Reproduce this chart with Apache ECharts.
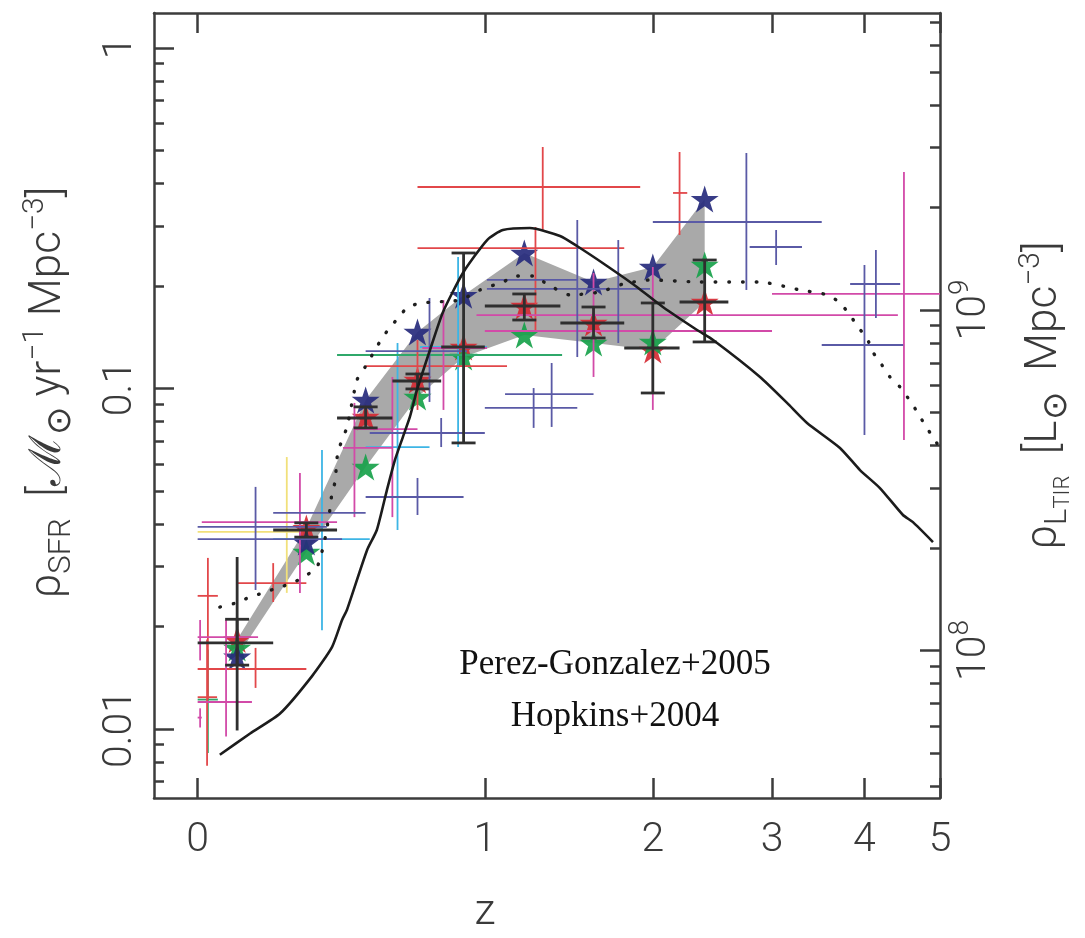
<!DOCTYPE html>
<html>
<head>
<meta charset="utf-8">
<script src="https://cdn.jsdelivr.net/npm/echarts@6/dist/echarts.min.js"></script>
<style>
  html, body { margin: 0; padding: 0; background: #ffffff; }
  #chart { width: 1085px; height: 938px; }
</style>
</head>
<body>
<div id="chart"></div>
<script>
// ---- Star-formation-rate density estimates per redshift bin ----
const starZ     = [0.1, 0.3, 0.5, 0.7, 0.9, 1.2, 1.6, 2.0, 2.4];
const starBlue  = [0.0163, 0.0354, 0.0925, 0.1465, 0.188, 0.250, 0.2055, 0.2274, 0.360];
const starRed   = [0.0183, 0.0389, 0.0825, 0.1059, 0.1324, 0.1747, 0.1557, 0.1297, 0.1795];
const starGreen = [0.0173, 0.0331, 0.0588, 0.0944, 0.1237, 0.1436, 0.1360, 0.1370, 0.2305];

// Error crosses: [z, rho, zLow, zHigh, rhoLow, rhoHigh]
const hopkinsPts = [
  [0.10, 0.0179, 0.0, 0.2, 0.0154, 0.0210],
  [0.30, 0.0384, 0.2, 0.4, 0.0366, 0.0403],
  [0.50, 0.0819, 0.4, 0.6, 0.0766, 0.0883],
  [0.70, 0.1052, 0.6, 0.8, 0.0997, 0.1103],
  [0.90, 0.1324, 0.8, 1.0, 0.0692, 0.2500],
  [1.20, 0.1747, 1.0, 1.4, 0.1589, 0.1895],
  [1.60, 0.1557, 1.4, 1.8, 0.1407, 0.1735],
  [2.00, 0.1315, 1.8, 2.2, 0.0970, 0.1783],
  [2.40, 0.1795, 2.2, 2.6, 0.1370, 0.2384]
];
const hopkinsOpen = [
  [0.10, 0.0179, 0.10, 0.10, 0.0099, 0.0320]
];
const redPts = [
  [0.025, 0.0246, 0.0, 0.05, 0.0122, 0.0318],
  [0.023, 0.0124, 0.0, 0.048, 0.0078, 0.0183],
  [0.20, 0.0268, 0.10, 0.30, 0.0236, 0.0307],
  [0.15, 0.0150, 0.0, 0.30, 0.0132, 0.0173],
  [0.70, 0.1164, 0.50, 1.11, 0.0865, 0.1388],
  [1.30, 0.3906, 0.70, 1.91, 0.292, 0.512],
  [1.26, 0.2585, 0.70, 1.80, 0.1485, 0.298],
  [2.20, 0.3752, 2.15, 2.26, 0.2823, 0.495]
];
const magentaPts = [
  [0.006, 0.0186, 0.0, 0.157, 0.0159, 0.0209],
  [0.006, 0.0108, 0.0, 0.01, 0.0101, 0.0115],
  [0.071, 0.0120, 0.0, 0.14, 0.0095, 0.0209],
  [0.28, 0.0405, 0.01, 0.40, 0.0251, 0.0565],
  [0.46, 0.0669, 0.42, 0.60, 0.0419, 0.0907],
  [0.60, 0.0760, 0.46, 0.70, 0.0419, 0.1081],
  [0.81, 0.1315, 0.72, 1.01, 0.0865, 0.1819],
  [1.60, 0.1475, 1.0, 3.0, 0.1081, 0.2184],
  [2.00, 0.1643, 0.96, 4.42, 0.0865, 0.2274],
  [4.50, 0.1895, 3.0, 5.0, 0.0706, 0.4322]
];
const yellowPts = [
  [0.24, 0.0379, 0.0, 0.28, 0.0251, 0.0629]
];
const cyanPts = [
  [0.35, 0.0361, 0.20, 0.515, 0.0195, 0.066],
  [0.62, 0.0673, 0.50, 0.75, 0.0384, 0.136],
  [0.875, 0.1324, 0.71, 1.01, 0.0673, 0.2433]
];
const greenPts = [
  [0.025, 0.0122, 0.0, 0.05, 0.0085, 0.0171],
  [0.90, 0.1254, 0.40, 1.41, 0.097, 0.16]
];
const navyPts = [
  [0.15, 0.0392, 0.0, 0.366, 0.0256, 0.0514],
  [0.17, 0.0361, 0.0, 0.417, 0.0361, 0.0361],
  [0.30, 0.0431, 0.20, 0.50, 0.0431, 0.0431],
  [0.70, 0.0480, 0.50, 0.90, 0.0425, 0.0546],
  [0.80, 0.0740, 0.515, 1.0, 0.0673, 0.0819],
  [1.35, 0.0963, 1.10, 1.60, 0.0771, 0.1188],
  [1.25, 0.0877, 1.0, 1.50, 0.0766, 0.1003],
  [0.75, 0.1288, 0.50, 0.916, 0.0913, 0.1844],
  [1.50, 0.2083, 1.01, 1.50, 0.1237, 0.3125],
  [1.76, 0.1960, 1.01, 1.98, 0.136, 0.2729],
  [2.76, 0.3083, 2.0, 3.51, 0.1947, 0.4916],
  [3.04, 0.2603, 2.79, 3.30, 0.2305, 0.292],
  [4.00, 0.1342, 3.51, 4.49, 0.073, 0.2305],
  [4.14, 0.2027, 3.83, 4.45, 0.161, 0.2551]
];

// Model curves
const solidZ = [0.055,0.135,0.22,0.318,0.383,0.417,0.434,0.505,0.541,0.579,0.61,0.641,0.669,0.698,0.752,0.808,0.897,1.011,1.089,1.23,1.398,1.498,1.686,1.887,2.074,2.338,2.47,2.886,3.148,3.353,3.713,3.946,4.19,4.487,4.621,4.899];
const solidRho = [0.0084,0.0097,0.0111,0.0143,0.0174,0.0209,0.0224,0.0335,0.0384,0.0503,0.0617,0.072,0.0825,0.099,0.1297,0.1678,0.2184,0.2729,0.292,0.296,0.2805,0.2621,0.229,0.1987,0.1735,0.1485,0.1388,0.1081,0.0907,0.0792,0.0669,0.0576,0.051,0.0425,0.0405,0.0354];
const dotZ = [0.055,0.094,0.135,0.171,0.214,0.256,0.293,0.334,0.359,0.376,0.383,0.393,0.403,0.434,0.469,0.498,0.552,0.583,0.622,0.661,0.718,0.773,0.884,0.977,1.089,1.161,1.247,1.324,1.457,1.641,1.792,1.98,2.361,2.886,3.148,3.279,3.578,3.713,3.828,3.922,4.029,4.102,4.215,4.317,4.448,4.554,4.689,4.786,4.899,4.97];
const dotRho = [0.0228,0.0234,0.0244,0.0251,0.026,0.0268,0.028,0.0299,0.0359,0.044,0.0493,0.0531,0.0651,0.0771,0.1059,0.1156,0.137,0.1485,0.161,0.1735,0.1783,0.1795,0.1819,0.1947,0.2055,0.214,0.214,0.2027,0.1882,0.192,0.2027,0.2083,0.2055,0.2055,0.1987,0.1947,0.1882,0.1783,0.1643,0.1516,0.1407,0.128,0.1172,0.1081,0.101,0.0938,0.0847,0.0781,0.072,0.0683];

// Axis ticks
const zTicks = [0, 1, 2, 3, 4, 5];
const zTickLabels = ['0', '1', '2', '3', '4', '5'];
const sfrTicks = [0.01, 0.1, 1];
const sfrTickLabels = ['0.01', '0.1', '1'];
const sfrMinorTicks = [0.007, 0.008, 0.009, 0.02, 0.03, 0.04, 0.05, 0.06, 0.07, 0.08, 0.09,
                       0.2, 0.3, 0.4, 0.5, 0.6, 0.7, 0.8, 0.9];
const lirTicks = [1e8, 1e9];
const lirTickExp = ['8', '9'];
const lirMinorTicks = [4e7, 5e7, 6e7, 7e7, 8e7, 9e7, 2e8, 3e8, 4e8, 5e8, 6e8, 7e8, 8e8, 9e8,
                       2e9, 3e9, 4e9, 5e9, 6e9, 7e9];

// SFR -> total IR luminosity density conversion (Msun/yr per Lsun)
const SFR_PER_LIR = 1.7e-10;
const sfrMin = 0.00627, sfrMax = 1.267;
const zMin = -0.1, zMax = 5;

const FONT = "Roboto, 'Liberation Sans', 'DejaVu Sans', Arial, sans-serif";
const WEIGHT = 300;
const INK = '#3a3a3a';
const frameStyle = { color: '#3c3c3c', width: 2.5 };

const onePlusZ = z => 1 + z;
const toCross = p => [onePlusZ(p[0]), p[1], onePlusZ(p[2]), onePlusZ(p[3]), p[4], p[5]];

function nearestIndex(list, v) {
  let best = 0;
  for (let i = 1; i < list.length; i++) {
    if (Math.abs(Math.log(list[i] / v)) < Math.abs(Math.log(list[best] / v))) best = i;
  }
  return best;
}

// Draws error crosses (horizontal = redshift bin, vertical = density range)
function crossRenderer(color, width, capHalf) {
  return function (params, api) {
    const c  = api.coord([api.value(0), api.value(1)]);
    const xl = api.coord([api.value(2), api.value(1)]);
    const xh = api.coord([api.value(3), api.value(1)]);
    const yl = api.coord([api.value(0), api.value(4)]);
    const yh = api.coord([api.value(0), api.value(5)]);
    const style = { stroke: color, lineWidth: width, fill: null };
    const children = [
      { type: 'line', shape: { x1: xl[0], y1: c[1], x2: xh[0], y2: c[1] }, style },
      { type: 'line', shape: { x1: c[0], y1: yl[1], x2: c[0], y2: yh[1] }, style }
    ];
    if (capHalf) {
      children.push({ type: 'line', shape: { x1: c[0] - capHalf, y1: yl[1], x2: c[0] + capHalf, y2: yl[1] }, style });
      children.push({ type: 'line', shape: { x1: c[0] - capHalf, y1: yh[1], x2: c[0] + capHalf, y2: yh[1] }, style });
    }
    return { type: 'group', children };
  };
}

function crossSeries(name, pts, color, width, capHalf) {
  return {
    name, type: 'custom', coordinateSystem: 'cartesian2d',
    xAxisIndex: 0, yAxisIndex: 0,
    encode: { x: [0, 2, 3], y: [1, 4, 5] },
    data: pts.map(toCross),
    renderItem: crossRenderer(color, width, capHalf),
    clip: true, silent: true, z: 4
  };
}

// Band spanned by the three estimates in each bin
const bandUpper = starZ.map((z, i) => [onePlusZ(z), Math.max(starBlue[i], starRed[i], starGreen[i])]);
const bandLower = starZ.map((z, i) => [onePlusZ(z), Math.min(starBlue[i], starRed[i], starGreen[i])]);

const STAR = 'path://M50 0 L61.23 34.55 L97.55 34.55 L68.17 55.9 L79.39 90.45 L50 69.1 L20.61 90.45 L31.83 55.9 L2.45 34.55 L38.77 34.55 Z';
function starSeries(name, values, color) {
  return {
    name, type: 'scatter', xAxisIndex: 0, yAxisIndex: 0,
    data: starZ.map((z, i) => [onePlusZ(z), values[i]]),
    symbol: STAR, symbolSize: [28, 27],
    itemStyle: { color, opacity: 0.92 },
    silent: true, z: 3
  };
}

const T = (size, extra) => Object.assign({ fontSize: size, fontFamily: FONT, fontWeight: WEIGHT, color: INK }, extra || {});
const rich = {
  b:   T(44, { lineHeight: 58 }),
  sup: T(30, { lineHeight: 24, verticalAlign: 'top' }),
  sub: T(31, { lineHeight: 22, verticalAlign: 'bottom' }),
  ss:  T(22, { lineHeight: 4, verticalAlign: 'bottom' }),
  sun: T(34, { lineHeight: 46, verticalAlign: 'bottom' })
};

const chart = echarts.init(document.getElementById('chart'), null, { renderer: 'canvas' });

const zAxisBase = {
  type: 'log', logBase: 10,
  min: onePlusZ(zMin), max: onePlusZ(zMax),
  axisLine: { show: true, onZero: false, lineStyle: frameStyle },
  axisTick: { show: true, inside: true, length: 20, lineStyle: frameStyle, customValues: zTicks.map(onePlusZ) },
  splitLine: { show: false }, minorTick: { show: false }, minorSplitLine: { show: false }
};

const option = {
  animation: false,
  backgroundColor: '#ffffff',
  grid: { left: 154, right: 145, top: 13, bottom: 140, containLabel: false, outerBoundsMode: 'none' },
  xAxis: [
    Object.assign({}, zAxisBase, {
      position: 'bottom',
      axisLabel: Object.assign(T(41), {
        show: true, customValues: zTicks.map(onePlusZ), margin: 22,
        formatter: v => zTickLabels[nearestIndex(zTicks.map(onePlusZ), v)]
      }),
      name: 'z', nameLocation: 'middle', nameGap: 94,
      nameTextStyle: T(43, { padding: [0, 124, 0, 0] })
    }),
    Object.assign({}, zAxisBase, { position: 'top', axisLabel: { show: false } })
  ],
  yAxis: [
    {
      type: 'log', logBase: 10, position: 'left', min: sfrMin, max: sfrMax,
      axisLine: { show: true, onZero: false, lineStyle: frameStyle },
      axisTick: { show: true, inside: true, length: 20, lineStyle: frameStyle, customValues: sfrTicks },
      axisLabel: Object.assign(T(41), {
        show: true, customValues: sfrTicks, rotate: 90, margin: 13,
        formatter: v => sfrTickLabels[nearestIndex(sfrTicks, v)]
      }),
      splitLine: { show: false }, minorTick: { show: false },
      name: '{b|ρ}{sub|SFR}{b|  [ℳ}{sun|⊙}{b| yr}{sup|−1}{b| Mpc}{sup|−3}{b|]}',
      nameLocation: 'middle', nameRotate: 90, nameGap: 76,
      nameTextStyle: T(44, { rich, padding: [0, 0, 0, 26] })
    },
    {
      type: 'log', logBase: 10, position: 'left', min: sfrMin, max: sfrMax,
      axisLine: { show: false },
      axisTick: { show: true, inside: true, length: 10, lineStyle: frameStyle, customValues: sfrMinorTicks },
      axisLabel: { show: false }, splitLine: { show: false }
    },
    {
      type: 'log', logBase: 10, position: 'right',
      min: sfrMin / SFR_PER_LIR, max: sfrMax / SFR_PER_LIR,
      axisLine: { show: true, onZero: false, lineStyle: frameStyle },
      axisTick: { show: true, inside: true, length: 20, lineStyle: frameStyle, customValues: lirTicks },
      axisLabel: {
        show: true, customValues: lirTicks, rotate: 90, margin: 7,
        formatter: v => '{b|10}{s|' + lirTickExp[nearestIndex(lirTicks, v)] + '}',
        rich: {
          b: T(41, { lineHeight: 56 }),
          s: T(28, { lineHeight: 22, verticalAlign: 'top' })
        }
      },
      splitLine: { show: false },
      name: '{b|ρ}{sub|L}{ss|TIR}{b|  [L}{sun|⊙}{b|  Mpc}{sup|−3}{b|]}',
      nameLocation: 'middle', nameRotate: 90, nameGap: 76,
      nameTextStyle: T(44, { rich, padding: [0, 0, 0, 20] })
    },
    {
      type: 'log', logBase: 10, position: 'right',
      min: sfrMin / SFR_PER_LIR, max: sfrMax / SFR_PER_LIR,
      axisLine: { show: false },
      axisTick: { show: true, inside: true, length: 10, lineStyle: frameStyle, customValues: lirMinorTicks },
      axisLabel: { show: false }, splitLine: { show: false }
    }
  ],
  graphic: [
    {
      type: 'text', x: 615, y: 691, z: 10,
      style: {
        text: 'Perez-Gonzalez+2005\nHopkins+2004',
        textAlign: 'center', textVerticalAlign: 'middle',
        font: '35px "Liberation Serif", "DejaVu Serif", serif',
        lineHeight: 52, fill: '#111111'
      }
    }
  ],
  series: [
    {
      name: 'range', type: 'custom', coordinateSystem: 'cartesian2d',
      xAxisIndex: 0, yAxisIndex: 0,
      encode: { x: 0, y: [1, 2] },
      data: bandUpper.map((p, i) => [p[0], p[1], bandLower[i][1]]),
      renderItem: function (params, api) {
        if (params.dataIndex !== 0) return null;
        const top = bandUpper.map(p => api.coord(p));
        const bottom = bandLower.map(p => api.coord(p)).reverse();
        return { type: 'polygon', shape: { points: top.concat(bottom) }, style: { fill: '#a9a9a9' } };
      },
      clip: true, silent: true, z: 1
    },
    starSeries('red', starRed, '#d52a33'),
    starSeries('green', starGreen, '#18a24b'),
    starSeries('blue', starBlue, '#272b7d'),
    crossSeries('yellow', yellowPts, '#f1e07a', 1.8, 0),
    crossSeries('cyan', cyanPts, '#3db5e5', 1.8, 0),
    crossSeries('green-x', greenPts, '#2fa86a', 1.8, 0),
    crossSeries('red-x', redPts, '#e2474a', 1.8, 0),
    crossSeries('magenta', magentaPts, '#d24aa8', 1.8, 0),
    crossSeries('navy', navyPts, '#5a5aa6', 1.8, 0),
    crossSeries('hopkins', hopkinsPts, '#2f2f2f', 2.8, 12),
    crossSeries('hopkins-open', hopkinsOpen, '#2f2f2f', 2.8, 0),
    {
      name: 'model', type: 'line', xAxisIndex: 0, yAxisIndex: 0,
      data: solidZ.map((z, i) => [onePlusZ(z), solidRho[i]]),
      showSymbol: false, smooth: 0.2,
      lineStyle: { color: '#1c1c1c', width: 2.6 },
      silent: true, z: 5
    },
    {
      name: 'model-dotted', type: 'line', xAxisIndex: 0, yAxisIndex: 0,
      data: dotZ.map((z, i) => [onePlusZ(z), dotRho[i]]),
      showSymbol: false, smooth: 0.2,
      lineStyle: { color: '#1e1e1e', width: 3.4, type: [0.6, 13], cap: 'round' },
      silent: true, z: 5
    }
  ]
};

chart.setOption(option);
</script>
</body>
</html>
